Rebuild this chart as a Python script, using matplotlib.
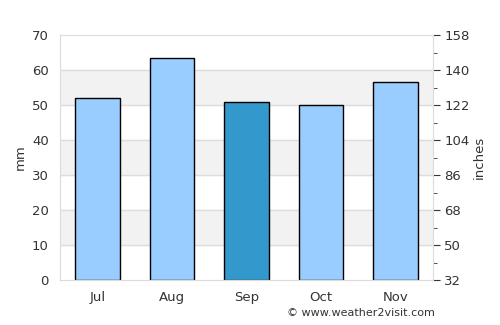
import matplotlib.pyplot as plt
import numpy as np

months = ["Jul", "Aug", "Sep", "Oct", "Nov"]
rain_mm = [52.0, 63.6, 50.9, 50.1, 56.6]
bar_colors = ["#99ccff", "#99ccff", "#3399cc", "#99ccff", "#99ccff"]

left_ticks = [0, 10, 20, 30, 40, 50, 60, 70]
right_labels = [32, 50, 68, 86, 104, 122, 140, 158]

fig = plt.figure(figsize=(5, 3.25), dpi=100)
ax = fig.add_axes([0.12, 0.138, 0.746, 0.754])

# grey bands
for lo in [10, 30, 50]:
    ax.axhspan(lo, lo + 10, color="#f2f2f2", zorder=0)
for t in left_ticks[1:-1]:
    ax.axhline(t, color="#dddddd", lw=1, zorder=0.5)

x = np.arange(len(months))
ax.bar(x, rain_mm, width=0.6, color=bar_colors, edgecolor="black", linewidth=1, zorder=2)

ax.set_xlim(-0.5, len(months) - 0.5)
ax.set_ylim(0, 70)
ax.set_yticks(left_ticks)
ax.set_xticks(x)
ax.set_xticklabels(months)
ax.set_ylabel("mm", color="#333333", fontsize=9.5)
ax.tick_params(axis="y", length=0, pad=8, labelsize=9.5, labelcolor="#333333")
ax.tick_params(axis="x", length=0, pad=8, labelsize=9.5, labelcolor="#333333")
for s in ax.spines.values():
    s.set_color("#dddddd")

ax2 = ax.twinx()
ax2.set_ylim(0, 70)
ax2.set_yticks(left_ticks)
ax2.set_yticklabels([str(v) for v in right_labels])
ax2.set_yticks([5, 15, 25, 35, 45, 55, 65], minor=True)
ax2.tick_params(axis="y", which="major", length=5, color="#333333", labelsize=9.5,
                labelcolor="#333333", pad=3)
ax2.tick_params(axis="y", which="minor", length=3, color="#333333")
ax2.set_ylabel("inches", color="#333333", fontsize=9.5, labelpad=2)
for s in ax2.spines.values():
    s.set_color("#dddddd")

fig.text(0.87, 0.02, "© www.weather2visit.com", ha="right", va="bottom",
         fontsize=8, color="#333333")

fig.savefig("out.png", dpi=100)
